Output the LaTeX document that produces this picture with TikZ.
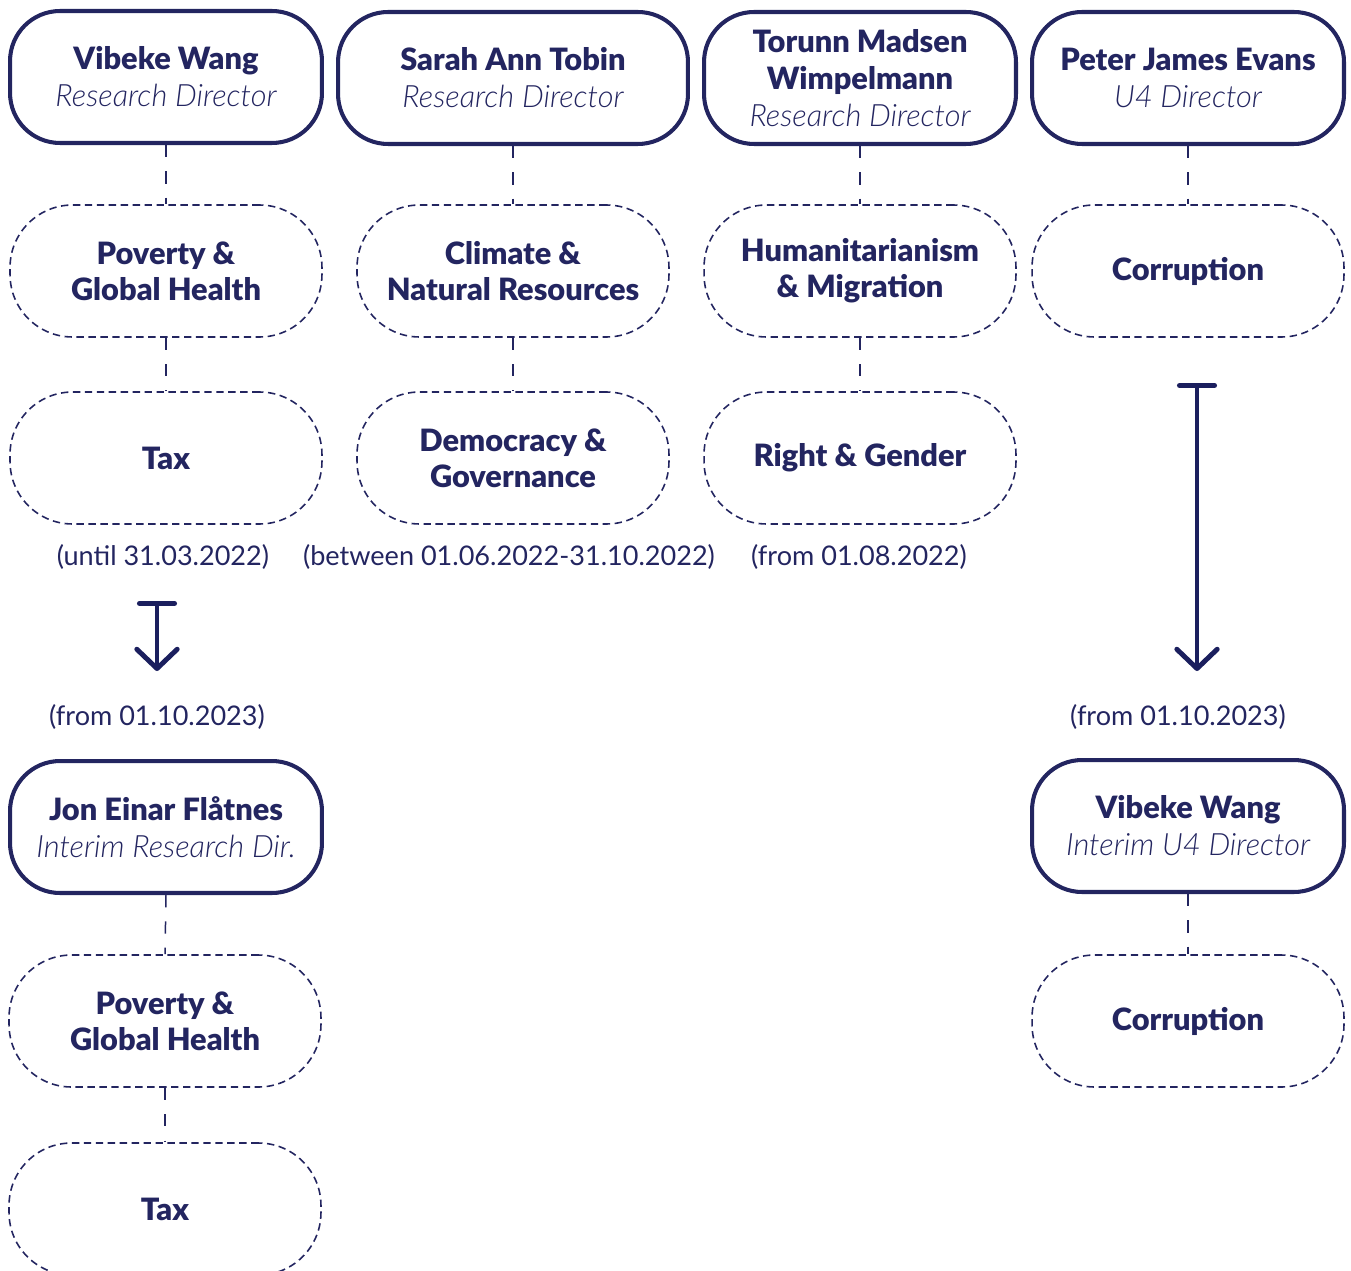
\documentclass[tikz,border=0pt]{standalone}
\usepackage{fontspec}
\setmainfont{Lato}
\newfontfamily\nameF{Lato Black}
\newfontfamily\roleF{Lato Light Italic}
\usetikzlibrary{arrows.meta}
\definecolor{navy}{RGB}{35,37,96}
\definecolor{arrowc}{RGB}{27,31,94}
\tikzset{
  solidbox/.style={draw=navy, line width=2.3pt, rounded corners=1cm, minimum width=6.24cm, minimum height=2.64cm, align=center, text=navy, inner sep=0pt, font=\fontsize{17.5}{21}\selectfont},
  dashbox/.style={draw=navy, line width=0.9pt, dash pattern=on 4.2pt off 2.6pt, rounded corners=1.25cm, minimum width=6.24cm, minimum height=2.64cm, align=center, text=navy, inner sep=0pt, font=\fontsize{17.5}{20.5}\selectfont\nameF},
  conn/.style={draw=navy, line width=0.85pt, dash pattern=on 7pt off 8pt},
  datelbl/.style={text=navy, font=\fontsize{15.4}{18}\selectfont, inner sep=0pt},
  bigarrow/.style={draw=arrowc, line width=2.8pt, line cap=round, {Bar[width=20pt,line cap=round]}-{Straight Barb[length=11pt,width=23pt,round]}}
}
\begin{document}
\begin{tikzpicture}[x=0.02cm,y=-0.02cm]
\useasboundingbox (0,0) rectangle (1351,1270);
\clip (0,0) rectangle (1351,1270);
% Row 1
\node[solidbox] (d1) at (166,77) {{\nameF Vibeke Wang}\\{\roleF Research Director}};
\node[solidbox, minimum width=7cm] (d2) at (513,78) {{\nameF Sarah Ann Tobin}\\{\roleF Research Director}};
\node[solidbox] (d3) at (860,78) {{\nameF Torunn Madsen}\\{\nameF Wimpelmann}\\{\roleF Research Director}};
\node[solidbox] (d4) at (1188,78) {{\nameF Peter James Evans}\\{\roleF U4 Director}};
% Row 2
\node[dashbox] (t1) at (166,271) {Poverty \&\\Global Health};
\node[dashbox] (t2) at (513,271) {Climate \&\\Natural Resources};
\node[dashbox] (t3) at (860,271) {Humanitarianism\\\& Migration};
\node[dashbox] (t4) at (1188,271) {Corruption};
% Row 3
\node[dashbox] (u1) at (166,458) {Tax};
\node[dashbox] (u2) at (513,458) {Democracy \&\\Governance};
\node[dashbox] (u3) at (860,458) {Right \& Gender};
% connectors
\draw[conn] (d1.south) -- (t1.north);
\draw[conn] (d2.south) -- (t2.north);
\draw[conn] (d3.south) -- (t3.north);
\draw[conn] (d4.south) -- (t4.north);
\draw[conn] (t1.south) -- (u1.north);
\draw[conn] (t2.south) -- (u2.north);
\draw[conn] (t3.south) -- (u3.north);
% date labels
\node[datelbl] (l1) at (163,557) {(until 31.03.2022)};
\node[datelbl] (l2) at (509,557) {(between 01.06.2022-31.10.2022)};
\node[datelbl] (l3) at (859,557) {(from 01.08.2022)};
% arrows
\coordinate (a1s) at (157,601);
\coordinate (a1e) at (157,671);
\coordinate (a2s) at (1197,383);
\coordinate (a2e) at (1197,671);
\draw[bigarrow] (a1s) -- (a1e);
\draw[bigarrow] (a2s) -- (a2e);
\node[datelbl] (l4) at (157,717) {(from 01.10.2023)};
\node[datelbl] (l5) at (1178,717) {(from 01.10.2023)};
% Row 4
\node[solidbox] (d5) at (166,827) {{\nameF Jon Einar Flåtnes}\\{\roleF Interim Research Dir.}};
\node[solidbox] (d6) at (1188,826) {{\nameF Vibeke Wang}\\{\roleF Interim U4 Director}};
% Row 5
\node[dashbox] (t5) at (165,1021) {Poverty \&\\Global Health};
\node[dashbox] (t6) at (1188,1021) {Corruption};
% Row 6
\node[dashbox] (u5) at (165,1209) {Tax};
\draw[conn] (d5.south) -- (t5.north);
\draw[conn] (d6.south) -- (t6.north);
\draw[conn] (t5.south) -- (u5.north);
\end{tikzpicture}
\end{document}
